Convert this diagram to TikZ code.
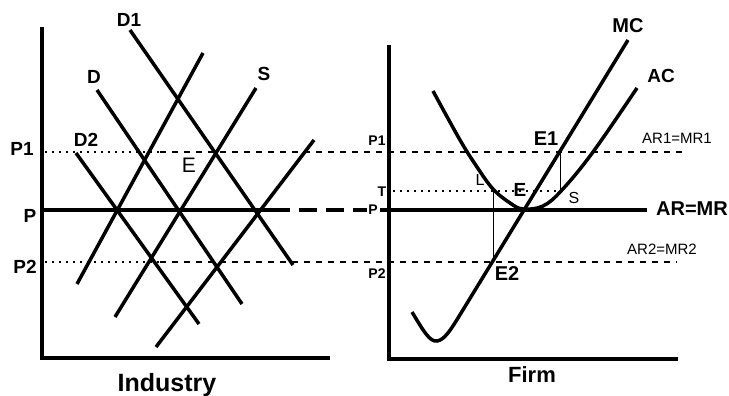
\documentclass[tikz,border=0pt]{standalone}
\usepackage{fontspec}
\setmainfont{Liberation Sans}
\tikzset{
  curve/.style={line width=3.5pt},
  axis/.style={line width=4pt},
  dotline/.style={line width=1.6pt, dash pattern=on 2pt off 5pt},
  dashline/.style={line width=1.6pt, dash pattern=on 6pt off 6pt},
  bigdash/.style={line width=3.5pt, dash pattern=on 18pt off 9pt},
  drop/.style={line width=0.9pt},
  lbl/.style={inner sep=0pt, font=\fontsize{19}{19}\selectfont\bfseries},
  tag/.style={inner sep=0pt, font=\fontsize{14}{14}\selectfont\bfseries},
  caption/.style={inner sep=0pt, font=\fontsize{25}{25}\selectfont\bfseries},
}
\begin{document}
\begin{tikzpicture}[x=1pt,y=-1pt]
\useasboundingbox (0,0) rectangle (729,396);
% industry panel
\coordinate (ytop1) at (42,27);
\coordinate (orig1) at (42,358);
\coordinate (xend1) at (330,358);
\draw[axis] (ytop1) -- (orig1) -- (xend1);
\coordinate (p1a) at (45,152); \coordinate (p1b) at (160,152); \coordinate (p1c) at (687,152);
\coordinate (p2a) at (45,262); \coordinate (p2b) at (160,262); \coordinate (p2c) at (677,262);
\draw[dotline] (p1a) -- (p1b); \draw[dashline] (p1b) -- (p1c);
\draw[dotline] (p2a) -- (p2b); \draw[dashline] (p2b) -- (p2c);
\foreach \name/\ax/\ay/\bx/\by in {d1/130/30/293/265, d/97/90/242/304, d2/76/153/199/324,
    s1/77/284/203/53, s/115/317/256/88, s2/156/347/314/140}{
  \coordinate (\name a) at (\ax,\ay);
  \coordinate (\name b) at (\bx,\by);
  \draw[curve] (\name a) -- (\name b);
}
\coordinate (pa) at (42,210); \coordinate (pb) at (272,210); \coordinate (pc) at (389,210);
\coordinate (pd) at (647,210);
\draw[curve] (pa) -- (pb);
\draw[bigdash] (pb) -- (pc);
\draw[curve] (pc) -- (pd);
\node[lbl] (d1lbl) at (129,20) {D1};
\node[lbl] (dlbl) at (94,77) {D};
\node[lbl] (d2lbl) at (86,140) {D2};
\node[lbl] (slbl) at (264,74) {S};
\node[inner sep=0pt, font=\fontsize{21}{21}\selectfont] (elbl) at (189,165) {E};
\node[lbl] (p1lbl) at (22,149) {P1};
\node[lbl] (plbl) at (30,216) {P};
\node[lbl] (p2lbl) at (25,267) {P2};
\node[caption] (ind) at (167,385) {Industry};
% firm panel
\coordinate (ytop2) at (389,45);
\coordinate (orig2) at (389,359);
\coordinate (xend2) at (678,359);
\draw[axis] (ytop2) -- (orig2) -- (xend2);
\coordinate (ta) at (393,191); \coordinate (tb) at (560,191);
\draw[dotline] (ta) -- (tb);
\coordinate (lpt) at (493,190); \coordinate (e2pt) at (493,262);
\coordinate (e1pt) at (560,152); \coordinate (spt) at (560,190);
\draw[drop] (lpt) -- (e2pt);
\draw[drop] (e1pt) -- (spt);
\coordinate (mca) at (412,312); \coordinate (mcmin) at (437,341);
\coordinate (mcb) at (458,318); \coordinate (mctop) at (628,40);
\draw[curve] (mca) .. controls (424,332) and (430,342) .. (mcmin)
  .. controls (444,340) and (450,331) .. (mcb) -- (mctop);
\draw[curve] plot[smooth, tension=0.6] coordinates {(433,91) (460,140) (477,167) (493,189)
  (510,203) (523,209) (543,206) (562,190) (593,152) (637,88)};
\node[lbl, font=\fontsize{20}{20}\selectfont\bfseries] (mclbl) at (628,26) {MC};
\node[lbl] (aclbl) at (661,76) {AC};
\node[lbl, font=\fontsize{20}{20}\selectfont\bfseries] (e1lbl) at (546,139) {E1};
\node[lbl] (erlbl) at (520,190) {E};
\node[tag, font=\fontsize{16}{16}\selectfont] (llbl) at (480,180) {L};
\node[tag, font=\fontsize{16}{16}\selectfont] (srlbl) at (574,198) {S};
\node[lbl, font=\fontsize{20}{20}\selectfont\bfseries] (e2lbl) at (507,274) {E2};
\node[tag] (p1rlbl) at (377,141) {P1};
\node[tag] (tlbl) at (382,192) {T};
\node[tag, fill=white, inner sep=1pt] (prlbl) at (373,210) {P};
\node[tag] (p2rlbl) at (377,274) {P2};
\node[tag, font=\fontsize{15}{15}\selectfont] (ar1) at (677,138) {AR1=MR1};
\node[lbl, font=\fontsize{20}{20}\selectfont\bfseries] (arlbl) at (692,209) {AR=MR};
\node[tag, font=\fontsize{15}{15}\selectfont] (ar2) at (662,249) {AR2=MR2};
\node[caption, font=\fontsize{22}{22}\selectfont\bfseries] (firm) at (532,375) {Firm};
\end{tikzpicture}
\end{document}
